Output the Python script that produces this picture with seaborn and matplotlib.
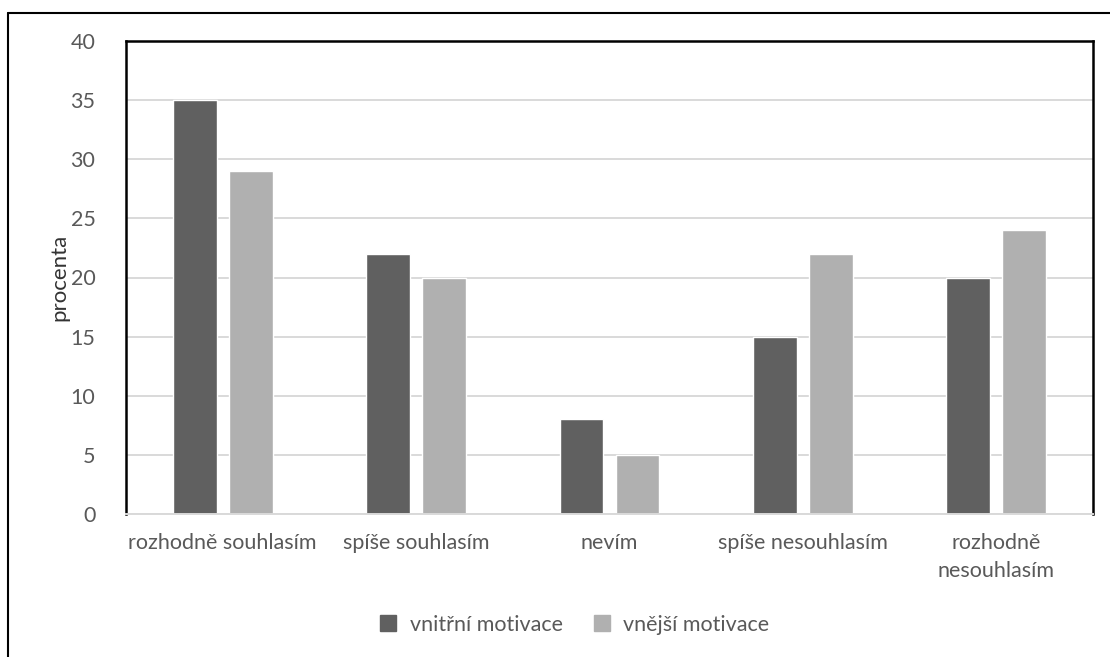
import matplotlib
matplotlib.use("Agg")
import matplotlib.pyplot as plt
from matplotlib.lines import Line2D
import seaborn as sns
import pandas as pd

# Survey answers and shares (%) for the two motivation types
categories = ["rozhodně souhlasím", "spíše souhlasím", "nevím",
              "spíše nesouhlasím", "rozhodně\nnesouhlasím"]
series_names = ["vnitřní motivace", "vnější motivace"]
vnitrni = [35, 22, 8, 15, 20]
vnejsi = [29, 20, 5, 22, 24]
yticks = [0, 5, 10, 15, 20, 25, 30, 35, 40]

df = pd.DataFrame({
    "kategorie": categories * 2,
    "motivace": [series_names[0]] * len(categories) + [series_names[1]] * len(categories),
    "procenta": vnitrni + vnejsi,
})

sns.set_theme(style="white")
plt.rcParams["font.family"] = ["Lato", "DejaVu Sans"]

text_col = "#595959"
fs = 15.5
fig = plt.figure(figsize=(11.1, 6.57), dpi=100)
ax = fig.add_axes([126 / 1110, 1 - 514 / 657, (1093 - 126) / 1110, (514 - 41) / 657])

sns.barplot(data=df, x="kategorie", y="procenta", hue="motivace",
            palette=["#606060", "#b0b0b0"], width=0.58, gap=0.22,
            saturation=1, ax=ax, legend=False, errorbar=None)

ax.set_ylim(0, 40)
ax.set_xlim(-0.5, len(categories) - 0.5)
ax.set_yticks(yticks)
ax.yaxis.grid(True, color="#d9d9d9", linewidth=1.4)
ax.set_axisbelow(True)

ax.tick_params(axis="y", length=0, pad=22, labelsize=fs, labelcolor=text_col)
ax.tick_params(axis="x", length=0, pad=14, labelsize=fs, labelcolor=text_col)
for lbl in ax.get_xticklabels():
    lbl.set_linespacing(1.5)
ax.set_xlabel("")
ax.set_ylabel("procenta", fontsize=16, color="#333333")
ax.yaxis.set_label_coords(-57 / 967, 0.5)

for side in ["left", "top", "right"]:
    ax.spines[side].set_color("black")
    ax.spines[side].set_linewidth(1.8)
ax.spines["bottom"].set_color("#d9d9d9")
ax.spines["bottom"].set_linewidth(1.4)

handles = [Line2D([], [], marker="s", linestyle="none", markersize=11,
                  markerfacecolor=c, markeredgecolor=c)
           for c in ["#606060", "#b0b0b0"]]
fig.legend(handles, series_names, loc="center", bbox_to_anchor=(568 / 1110, 1 - 625 / 657),
           ncol=2, frameon=False, fontsize=fs, labelcolor=text_col,
           handletextpad=0.0, columnspacing=0.8)

# outer frame lines (top and left)
fig.add_artist(Line2D([8 / 1110, 8 / 1110], [0, 1 - 13 / 657], color="black",
                      linewidth=1.5, transform=fig.transFigure))
fig.add_artist(Line2D([8 / 1110, 1], [1 - 13 / 657, 1 - 13 / 657], color="black",
                      linewidth=1.5, transform=fig.transFigure))

fig.savefig("out.png", dpi=100, facecolor="white")
